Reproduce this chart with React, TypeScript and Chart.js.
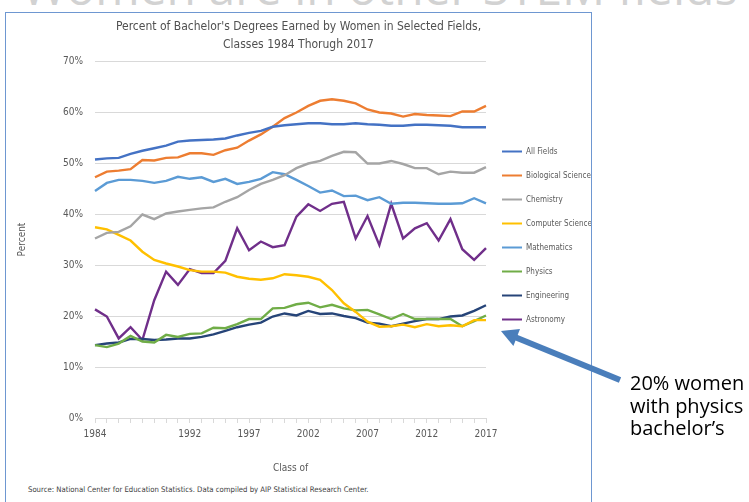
import React, { useEffect, useRef } from "react";
import { Chart, registerables } from "chart.js";

Chart.register(...registerables);

const years = [
  "1984","1985","1986","1987","1988","1989","1990","1991","1992","1993","1994","1995",
  "1996","1997","1998","1999","2000","2001","2002","2003","2004","2005","2006","2007",
  "2008","2009","2010","2011","2012","2013","2014","2015","2016","2017",
];
const shownYearLabels = ["1984", "1992", "1997", "2002", "2007", "2012", "2017"];
const yTicks = [0, 10, 20, 30, 40, 50, 60, 70];

const allFields = [50.7, 50.9, 51.0, 51.8, 52.4, 52.9, 53.4, 54.2, 54.4, 54.5, 54.6, 54.8, 55.4, 55.9, 56.3, 57.1, 57.4, 57.6, 57.8, 57.8, 57.6, 57.6, 57.8, 57.6, 57.5, 57.3, 57.3, 57.5, 57.5, 57.4, 57.3, 57.0, 57.0, 57.0];
const biologicalScience = [47.2, 48.3, 48.5, 48.8, 50.6, 50.5, 51.0, 51.1, 51.9, 51.9, 51.6, 52.5, 53.0, 54.4, 55.6, 57.1, 58.8, 59.9, 61.2, 62.2, 62.5, 62.2, 61.7, 60.5, 59.9, 59.7, 59.1, 59.6, 59.4, 59.3, 59.2, 60.1, 60.1, 61.2];
const chemistry = [35.2, 36.3, 36.5, 37.6, 39.9, 39.0, 40.1, 40.5, 40.8, 41.1, 41.3, 42.4, 43.3, 44.7, 45.9, 46.7, 47.6, 49.0, 49.9, 50.4, 51.4, 52.2, 52.1, 49.9, 49.9, 50.4, 49.8, 49.0, 49.0, 47.8, 48.3, 48.1, 48.1, 49.2];
const computerScience = [37.4, 37.0, 35.9, 34.8, 32.6, 31.0, 30.3, 29.7, 29.0, 28.7, 28.7, 28.5, 27.7, 27.3, 27.1, 27.4, 28.2, 28.0, 27.7, 27.1, 25.1, 22.5, 20.8, 18.9, 17.9, 18.0, 18.3, 17.8, 18.4, 18.0, 18.2, 18.0, 19.2, 19.2];
const mathematics = [44.5, 46.1, 46.7, 46.7, 46.5, 46.1, 46.5, 47.3, 46.9, 47.2, 46.3, 46.9, 45.9, 46.3, 46.9, 48.2, 47.8, 46.7, 45.5, 44.2, 44.6, 43.5, 43.6, 42.7, 43.3, 42.0, 42.2, 42.2, 42.1, 42.0, 42.0, 42.1, 43.1, 42.1];
const physics = [14.3, 13.9, 14.6, 16.1, 15.0, 14.8, 16.3, 15.9, 16.5, 16.6, 17.7, 17.6, 18.4, 19.4, 19.4, 21.5, 21.6, 22.3, 22.6, 21.7, 22.2, 21.5, 21.1, 21.2, 20.3, 19.4, 20.4, 19.4, 19.4, 19.4, 19.4, 18.0, 19.0, 20.1];
const engineering = [14.3, 14.6, 14.8, 15.5, 15.5, 15.3, 15.4, 15.6, 15.6, 15.9, 16.4, 17.1, 17.8, 18.3, 18.7, 19.9, 20.5, 20.1, 21.0, 20.4, 20.5, 20.0, 19.6, 18.7, 18.5, 18.0, 18.5, 19.0, 19.4, 19.4, 19.9, 20.1, 21.0, 22.1];
const astronomy = [21.3, 19.9, 15.6, 17.8, 15.3, 23.1, 28.7, 26.1, 29.2, 28.4, 28.4, 30.8, 37.2, 32.9, 34.6, 33.5, 33.9, 39.5, 41.9, 40.6, 42.0, 42.4, 35.2, 39.6, 33.9, 42.0, 35.2, 37.2, 38.2, 34.8, 39.0, 33.1, 31.0, 33.3];

const seriesNames = ["All Fields", "Biological Science", "Chemistry", "Computer Science", "Mathematics", "Physics", "Engineering", "Astronomy"];
const seriesValues = [allFields, biologicalScience, chemistry, computerScience, mathematics, physics, engineering, astronomy];
const seriesColors = ["#4472C4", "#ED7D31", "#A5A5A5", "#FFC000", "#5B9BD5", "#70AD47", "#264478", "#702F8A"];

const NARROW = '"Liberation Sans Narrow", "DejaVu Sans Condensed", "Arial Narrow", sans-serif';

const legendShift = {
  id: "legendShift",
  afterLayout(chart: any) {
    if (chart.legend) {
      chart.legend.top -= 10;
      chart.legend.bottom -= 10;
    }
  },
};

export default function App() {
  const canvasRef = useRef<HTMLCanvasElement | null>(null);

  useEffect(() => {
    if (!canvasRef.current) return;
    const chart = new Chart(canvasRef.current, {
      type: "line",
      data: {
        labels: years,
        datasets: seriesNames.map((name, i) => ({
          label: name,
          data: seriesValues[i],
          borderColor: seriesColors[i],
          backgroundColor: seriesColors[i],
          borderWidth: 2.4,
          pointRadius: 0,
          tension: 0,
          fill: false,
        })),
      },
      plugins: [legendShift],
      options: {
        animation: false,
        responsive: false,
        layout: { padding: { left: 0, right: 0, top: 0, bottom: 5 } },
        plugins: {
          tooltip: { enabled: false },
          title: {
            display: true,
            text: ["Percent of Bachelor's Degrees Earned by Women in Selected Fields,", "Classes 1984 Thorugh 2017"],
            color: "#505050",
            font: { family: NARROW, size: 12, lineHeight: 18 / 12, weight: "normal" },
            padding: { top: 5, bottom: 7 },
          },
          legend: {
            position: "right",
            maxWidth: 105,
            labels: {
              boxWidth: 20,
              boxHeight: 2,
              padding: 16,
              color: "#595959",
              font: { family: NARROW, size: 8 },
              generateLabels: (c: any) =>
                Chart.defaults.plugins.legend.labels.generateLabels(c).map((l: any) => ({ ...l, lineWidth: 0 })),
            },
          },
        },
        scales: {
          x: {
            type: "category",
            offset: false,
            grid: { display: true, drawOnChartArea: false, drawTicks: true, tickLength: 5, color: "#d9d9d9" },
            border: { display: true, color: "#d9d9d9" },
            ticks: {
              autoSkip: false,
              maxRotation: 0,
              padding: 5,
              color: "#595959",
              font: { family: NARROW, size: 10 },
              callback: function (this: any, value: any) {
                const lab = this.getLabelForValue(value);
                return shownYearLabels.includes(lab) ? lab : "";
              },
            },
            title: {
              display: true,
              text: "Class of",
              color: "#595959",
              font: { family: NARROW, size: 10 },
              padding: { top: 0, bottom: 4 },
            },
            afterFit: (s: any) => { s.height = 60; },
          },
          y: {
            min: 0,
            max: 70,
            afterBuildTicks: (s: any) => { s.ticks = yTicks.map((v) => ({ value: v })); },
            grid: { color: "#d9d9d9", drawTicks: false, lineWidth: 1 },
            border: { display: false },
            ticks: {
              padding: 12,
              color: "#595959",
              font: { family: NARROW, size: 10 },
              callback: (v: any) => v + "%",
            },
            title: {
              display: true,
              text: "Percent",
              color: "#595959",
              font: { family: NARROW, size: 10 },
              padding: { top: 10, bottom: 0 },
            },
            afterFit: (s: any) => { s.width = 89; },
          },
        },
      },
    } as any);
    return () => chart.destroy();
  }, []);

  return (
    <div style={{ position: "absolute", left: 0, top: 0, width: 749, height: 502, overflow: "hidden", background: "#ffffff" }}>
      <div
        style={{
          position: "absolute", left: 22, top: -37, whiteSpace: "nowrap",
          fontFamily: '"Open Sans", sans-serif', fontSize: 48, lineHeight: "48px", color: "#d2d2d2",
        }}
      >
        Women are in other STEM fields
      </div>
      <div
        style={{
          position: "absolute", left: 5, top: 12, width: 585, height: 500,
          border: "1px solid #6E97D1", background: "#ffffff",
        }}
      >
        <canvas ref={canvasRef} width={585} height={470} style={{ display: "block", position: "absolute", left: 0, top: 0 }} />
        <div
          style={{
            position: "absolute", left: 22, top: 472, whiteSpace: "nowrap",
            fontFamily: NARROW, fontSize: 7.7, lineHeight: "10px", color: "#404040",
          }}
        >
          Source: National Center for Education Statistics. Data compiled by AIP Statistical Research Center.
        </div>
      </div>
      <svg width={749} height={502} style={{ position: "absolute", left: 0, top: 0, pointerEvents: "none" }}>
        <line x1={620} y1={380} x2={516} y2={337.5} stroke="#4A7EBB" strokeWidth={6} />
        <polygon points="501,331 513.4,346 520,329" fill="#4A7EBB" />
      </svg>
      <div
        style={{
          position: "absolute", left: 630, top: 372, whiteSpace: "nowrap",
          fontFamily: '"Open Sans", sans-serif', fontSize: 20, lineHeight: "22.5px", color: "#000000",
        }}
      >
        20% women<br />with physics<br />bachelor’s
      </div>
    </div>
  );
}
